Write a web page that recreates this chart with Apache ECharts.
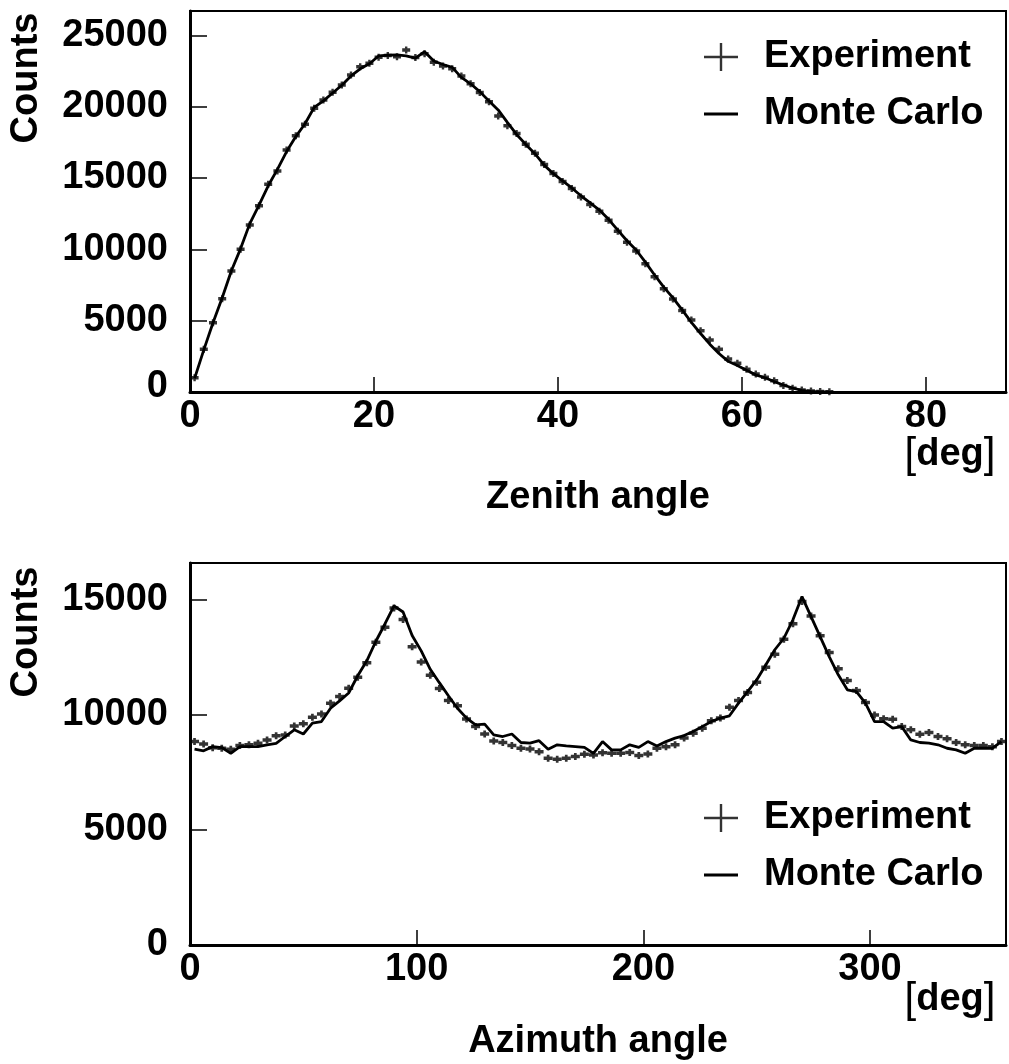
<!DOCTYPE html>
<html><head><meta charset="utf-8">
<script src="https://cdn.jsdelivr.net/npm/echarts@6/dist/echarts.min.js"></script>
<style>html,body{margin:0;padding:0;background:#fff}#c{width:1009px;height:1064px}</style>
</head><body><div id="c"></div><script>
// ---- Zenith angle histogram (1 deg bins) ----
const zenithBins = [0.5,1.5,2.5,3.5,4.5,5.5,6.5,7.5,8.5,9.5,10.5,11.5,12.5,13.5,14.5,15.5,16.5,17.5,18.5,19.5,
  20.5,21.5,22.5,23.5,24.5,25.5,26.5,27.5,28.5,29.5,30.5,31.5,32.5,33.5,34.5,35.5,36.5,37.5,38.5,39.5,
  40.5,41.5,42.5,43.5,44.5,45.5,46.5,47.5,48.5,49.5,50.5,51.5,52.5,53.5,54.5,55.5,56.5,57.5,58.5,59.5,
  60.5,61.5,62.5,63.5,64.5,65.5,66.5,67.5,68.5,69.5];
const zenithExperiment = [1000,2990,4860,6540,8480,10000,11700,13060,14560,15490,16960,17950,18770,19890,20470,21010,21520,22220,22800,23040,
  23460,23580,23500,23970,23440,23700,23100,22850,22650,22150,21600,20990,20340,19340,18660,18120,17360,16730,15940,15310,
  14760,14260,13660,13140,12660,12030,11260,10500,9880,8990,8070,7230,6520,5720,5040,4290,3640,2990,2320,2020,
  1600,1270,1040,780,450,270,140,70,30,10];
const zenithMonteCarlo = [950,2950,4850,6600,8500,10050,11800,13100,14450,15600,16850,17900,18800,19950,20400,20950,21500,22150,22650,23000,
  23550,23600,23620,23550,23400,23850,23200,22950,22750,22050,21600,21050,20400,19770,18900,18050,17350,16700,15900,15300,
  14800,14300,13750,13250,12750,12100,11350,10600,9950,9100,8200,7350,6600,5750,4880,4100,3350,2700,2150,1850,
  1520,1200,1000,730,490,280,120,40,10,0];
const zenithTicks = [0,20,40,60,80];
const zenithCountTicks = [0,5000,10000,15000,20000,25000];

// ---- Azimuth angle histogram (4 deg bins) ----
const azimuthBins = [2,6,10,14,18,22,26,30,34,38,42,46,50,54,58,62,66,70,74,78,82,86,90,94,98,102,106,110,114,118,
  122,126,130,134,138,142,146,150,154,158,162,166,170,174,178,182,186,190,194,198,202,206,210,214,218,222,226,230,234,238,
  242,246,250,254,258,262,266,270,274,278,282,286,290,294,298,302,306,310,314,318,322,326,330,334,338,342,346,350,354,358];
const azimuthExperiment = [8840,8730,8570,8550,8510,8670,8700,8770,8910,9090,9130,9520,9610,9900,10040,10510,10800,11160,11640,12270,
  13160,13810,14640,14150,12960,12300,11720,11150,10620,10400,9820,9500,9170,8860,8800,8670,8550,8520,8400,8120,
  8070,8120,8190,8290,8260,8350,8330,8330,8360,8230,8300,8550,8620,8700,8990,9200,9420,9750,9860,10330,
  10620,10970,11420,12070,12640,13290,13960,14930,14300,13440,12710,12000,11490,11060,10540,10000,9830,9810,9490,9350,
  9160,9230,9060,8960,8800,8700,8670,8670,8620,8840];
const azimuthMonteCarlo = [8510,8440,8620,8580,8330,8620,8620,8620,8700,8760,9060,9350,9170,9640,9710,10290,10610,10950,11700,12350,
  13200,13950,14740,14470,13450,12780,11980,11400,10830,10290,9860,9570,9600,9130,9060,9170,8800,8770,8880,8510,
  8700,8650,8620,8590,8330,8840,8480,8480,8700,8590,8840,8650,8840,8990,9100,9280,9490,9710,9860,9960,
  10510,11010,11520,12170,12830,13330,14130,15140,14270,13400,12530,11740,11090,11010,10510,9710,9710,9420,9490,8910,
  8800,8770,8700,8550,8480,8330,8550,8550,8550,8840];
const azimuthTicks = [0,100,200,300];
const azimuthCountTicks = [0,5000,10000,15000];

const FONT = '"Liberation Sans", Arial, Helvetica, sans-serif';
const FS = 38;
const txt = {fontFamily: FONT, fontSize: FS, fontWeight: 'bold', color: '#000'};
const zip = (a, b) => a.map((v, i) => [v, b[i]]);
const markerPath = 'path://M0,2H10V6H0Z M3.5,0H6.5V8H3.5Z';
const plusIcon = 'path://M0,12.8H34V15.2H0Z M15.8,0H18.2V28H15.8Z';

function xAxis(grid, max, ticks, name, nameGap) {
  return {
    gridIndex: grid, type: 'value', min: 0, max: max, interval: ticks[1] - ticks[0],
    axisLine: {show: true, onZero: false, lineStyle: {color: '#000', width: 3}},
    axisTick: {show: true, inside: true, length: 15, lineStyle: {color: '#000', width: 1.5}},
    axisLabel: Object.assign({margin: 6, showMaxLabel: false,
      formatter: v => ticks.indexOf(v) >= 0 ? String(v) : ''}, txt),
    splitLine: {show: false},
    name: name, nameLocation: 'middle', nameGap: nameGap, nameTextStyle: txt
  };
}
function yAxis(grid, max, ticks, raiseZero) {
  return {
    gridIndex: grid, type: 'value', min: 0, max: max, interval: ticks[1] - ticks[0],
    axisLine: {show: true, onZero: false, lineStyle: {color: '#000', width: 3}},
    axisTick: {show: true, inside: true, length: 17, lineStyle: {color: '#000', width: 1.5}},
    axisLabel: Object.assign({margin: 22, showMaxLabel: false,
      formatter: v => ticks.indexOf(v) < 0 ? '' : (v === 0 && raiseZero ? '{z|0}' : String(v)),
      rich: {z: Object.assign({padding: [0, 0, 10, 0]}, txt)}}, txt),
    splitLine: {show: false}
  };
}
function legend(name, icon, w, h, left, top) {
  return {
    data: [{name: name, icon: icon}], left: left, top: top, orient: 'vertical', padding: 0,
    itemWidth: w, itemHeight: h, selectedMode: false,
    textStyle: Object.assign({padding: [0, 0, 0, 21], lineHeight: 40}, txt)
  };
}
function degLabel(y) {
  return {type: 'text', x: 950, y: y, style: {
    text: '{n|[}deg{n|]}', fontFamily: FONT, fontSize: FS, fontWeight: 'bold', fill: '#000',
    align: 'center', verticalAlign: 'middle',
    rich: {n: {fontFamily: FONT, fontSize: FS + 4, fontWeight: 'normal', fill: '#000'}}}};
}
function countsLabel(y) {
  return {type: 'text', x: 27, y: y, rotation: Math.PI / 2, style: {
    text: 'Counts', fontFamily: FONT, fontSize: FS, fontWeight: 'bold', fill: '#000',
    align: 'center', verticalAlign: 'middle'}};
}

const chart = echarts.init(document.getElementById('c'), null, {renderer: 'canvas'});
chart.setOption({
  backgroundColor: '#fff',
  animation: false,
  grid: [
    {left: 190, top: 11, width: 816, height: 381, show: true, borderColor: '#000', borderWidth: 2, backgroundColor: 'transparent'},
    {left: 190, top: 563, width: 816, height: 382, show: true, borderColor: '#000', borderWidth: 2, backgroundColor: 'transparent'}
  ],
  xAxis: [
    xAxis(0, 88.7, zenithTicks, 'Zenith angle', 87),
    xAxis(1, 360, azimuthTicks, 'Azimuth angle', 78)
  ],
  yAxis: [
    yAxis(0, 26700, zenithCountTicks, true),
    yAxis(1, 16600, azimuthCountTicks, false)
  ],
  legend: [
    legend('Experiment', plusIcon, 34, 28, 704, 37),
    legend('Monte Carlo', 'rect', 34, 2.8, 704, 94),
    legend('Experiment', plusIcon, 34, 28, 704, 798),
    legend('Monte Carlo', 'rect', 34, 2.8, 704, 855)
  ],
  graphic: [countsLabel(78), countsLabel(632), degLabel(455), degLabel(1000)],
  series: [
    {name: 'Monte Carlo', type: 'line', xAxisIndex: 0, yAxisIndex: 0, data: zip(zenithBins, zenithMonteCarlo),
      showSymbol: false, symbol: 'none', color: '#000', itemStyle: {color: '#000'}, lineStyle: {color: '#000', width: 2.8}},
    {name: 'Experiment', type: 'scatter', xAxisIndex: 0, yAxisIndex: 0, data: zip(zenithBins, zenithExperiment),
      symbol: markerPath, symbolSize: [8, 7], color: '#000', itemStyle: {color: '#000'}},
    {name: 'Monte Carlo', type: 'line', xAxisIndex: 1, yAxisIndex: 1, data: zip(azimuthBins, azimuthMonteCarlo),
      showSymbol: false, symbol: 'none', color: '#000', itemStyle: {color: '#000'}, lineStyle: {color: '#000', width: 2.8}},
    {name: 'Experiment', type: 'scatter', xAxisIndex: 1, yAxisIndex: 1, data: zip(azimuthBins, azimuthExperiment),
      symbol: markerPath, symbolSize: [9, 7], color: '#000', itemStyle: {color: '#000'}}
  ]
});
</script></body></html>
